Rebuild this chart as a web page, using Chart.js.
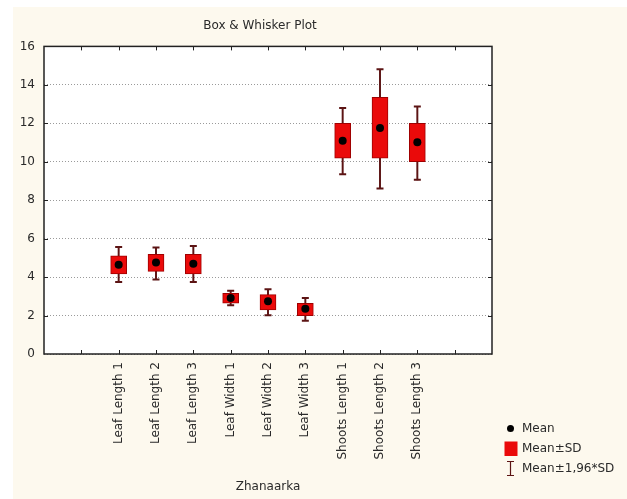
<!DOCTYPE html>
<html>
<head>
<meta charset="utf-8">
<script src="https://cdn.jsdelivr.net/npm/chart.js@4"></script>
<style>
html,body{margin:0;padding:0;background:#ffffff;}
canvas{display:block;}
</style>
</head>
<body>
<canvas id="c" width="627" height="499"></canvas>
<script>
// ---- data ----
const categories = ['Leaf Length 1','Leaf Length 2','Leaf Length 3','Leaf Width 1','Leaf Width 2','Leaf Width 3','Shoots Length 1','Shoots Length 2','Shoots Length 3'];
const means  = [4.64, 4.76, 4.69, 2.91, 2.74, 2.36, 11.09, 11.76, 11.01];
const sdLow  = [4.16, 4.30, 4.16, 2.65, 2.29, 1.99, 10.18, 10.18, 10.01];
const sdHigh = [5.10, 5.19, 5.19, 3.16, 3.09, 2.63, 12.00, 13.35, 12.00];
const ciLow  = [3.74, 3.88, 3.74, 2.53, 2.01, 1.73, 9.35, 8.61, 9.06];
const ciHigh = [5.56, 5.54, 5.62, 3.29, 3.37, 2.91, 12.80, 14.81, 12.87];
const xLabels = ['', ''].concat(categories, ['', '']);
const yMin = 0, yMax = 16, yStep = 2;
const chartTitle = 'Box & Whisker Plot';
const xTitle = 'Zhanaarka';
const legendLabels = ['Mean', 'Mean\u00b1SD', 'Mean\u00b11,96*SD'];

// ---- styles ----
const FONT = 'DejaVu Sans';
const TEXT = '#2a2a2a';
const CREAM = '#fdf9ee';
const BOX = '#ea0a0a';
const BOX_EDGE = '#a00000';
const WHISK = '#5c1414';

const frame = {
  id: 'frame',
  beforeDraw(chart) {
    const {ctx, chartArea: a} = chart;
    ctx.save();
    ctx.fillStyle = '#ffffff';
    ctx.fillRect(0, 0, chart.width, chart.height);
    ctx.fillStyle = CREAM;
    ctx.fillRect(13, 7, chart.width - 13, chart.height - 7);
    ctx.fillStyle = '#ffffff';
    ctx.fillRect(a.left, a.top, a.right - a.left, a.bottom - a.top);
    ctx.restore();
  },
  afterDraw(chart) {
    const {ctx, chartArea: a} = chart;
    const xs = chart.scales.x, ys = chart.scales.y;
    ctx.save();
    ctx.strokeStyle = '#222222';
    ctx.lineWidth = 1;
    ctx.beginPath();
    xs.ticks.forEach((t, i) => {
      if (i === 0 || i === xs.ticks.length - 1) return;
      const px = Math.round(xs.getPixelForTick(i)) + 0.5;
      ctx.moveTo(px, a.bottom); ctx.lineTo(px, a.bottom - 4);
      ctx.moveTo(px, a.top); ctx.lineTo(px, a.top + 4);
    });
    ys.ticks.forEach(t => {
      if (t.value === yMin || t.value === yMax) return;
      const py = Math.round(ys.getPixelForValue(t.value)) + 0.5;
      ctx.moveTo(a.left, py); ctx.lineTo(a.left + 4, py);
      ctx.moveTo(a.right, py); ctx.lineTo(a.right - 4, py);
    });
    ctx.stroke();
    ctx.lineWidth = 1.5;
    ctx.strokeRect(a.left, a.top, a.right - a.left, a.bottom - a.top);

    // legend
    ctx.font = '12px "' + FONT + '"';
    ctx.fillStyle = TEXT;
    ctx.textBaseline = 'middle';
    ctx.textAlign = 'left';
    const lx = 510.5, tx = 522;
    const rows = [428.5, 448.5, 468.5];
    // mean dot
    ctx.fillStyle = '#000';
    ctx.beginPath(); ctx.arc(lx, rows[0], 3.5, 0, Math.PI * 2); ctx.fill();
    // sd box
    ctx.fillStyle = BOX;
    ctx.fillRect(504.5, 441.5, 13, 14.5);
    // whisker icon
    ctx.strokeStyle = WHISK;
    ctx.lineWidth = 1.2;
    ctx.beginPath();
    ctx.moveTo(lx, 461); ctx.lineTo(lx, 476);
    ctx.moveTo(lx - 3.5, 461.5); ctx.lineTo(lx + 3.5, 461.5);
    ctx.moveTo(lx - 3.5, 475.5); ctx.lineTo(lx + 3.5, 475.5);
    ctx.stroke();
    ctx.fillStyle = TEXT;
    legendLabels.forEach((s, i) => ctx.fillText(s, tx, rows[i]));
    ctx.restore();
  }
};

const pts = arr => categories.map((c, i) => ({x: c, y: arr[i]}));
const ranges = (lo, hi) => categories.map((c, i) => ({x: c, y: [lo[i], hi[i]]}));

new Chart(document.getElementById('c'), {
  type: 'bar',
  data: {
    labels: xLabels,
    datasets: [
      { type: 'line', label: 'Mean', data: pts(means), showLine: false, order: 0,
        pointRadius: 4, pointHoverRadius: 4, pointBackgroundColor: '#000', pointBorderWidth: 0 },
      { type: 'bar', label: 'Mean±SD', data: ranges(sdLow, sdHigh), order: 1, grouped: false,
        barThickness: 16, backgroundColor: BOX, borderColor: BOX_EDGE, borderWidth: 1, borderSkipped: false },
      { type: 'line', label: 'capLow', data: pts(ciLow), showLine: false, order: 2,
        pointStyle: 'line', pointRadius: 3.5, pointHoverRadius: 3.5, pointBorderColor: WHISK, pointBorderWidth: 2 },
      { type: 'line', label: 'capHigh', data: pts(ciHigh), showLine: false, order: 2,
        pointStyle: 'line', pointRadius: 3.5, pointHoverRadius: 3.5, pointBorderColor: WHISK, pointBorderWidth: 2 },
      { type: 'bar', label: 'Mean±1,96*SD', data: ranges(ciLow, ciHigh), order: 3, grouped: false,
        barThickness: 1.3, backgroundColor: WHISK, borderWidth: 0 }
    ]
  },
  options: {
    responsive: false,
    animation: false,
    devicePixelRatio: 1,
    layout: { padding: { left: 13, top: 7, right: 120, bottom: 0 } },
    plugins: {
      legend: { display: false },
      tooltip: { enabled: false },
      title: { display: true, text: chartTitle, color: TEXT,
        font: { family: FONT, size: 12, weight: 'normal' }, padding: { top: 12, bottom: 13 } }
    },
    scales: {
      x: {
        type: 'category', labels: xLabels, offset: false,
        grid: { display: false, drawTicks: false, offset: false },
        border: { display: false },
        ticks: { autoSkip: false, minRotation: 90, maxRotation: 90, padding: 8,
          color: TEXT, font: { family: FONT, size: 12 } },
        title: { display: true, text: xTitle, color: TEXT, font: { family: FONT, size: 12 },
          padding: { top: 0, bottom: 5 } },
        afterFit(s) { s.height = 145; }
      },
      y: {
        type: 'linear', position: 'left', min: yMin, max: yMax,
        grid: { color: '#9a9a9a', lineWidth: 1, drawTicks: false },
        border: { display: false, dash: [1, 2] },
        ticks: { stepSize: yStep, padding: 9, color: TEXT, font: { family: FONT, size: 12 } },
        afterFit(s) { s.width = 31; }
      },
      y2: {
        type: 'linear', position: 'right', min: 0, max: 1,
        grid: { display: false, drawTicks: false },
        border: { display: false },
        ticks: { display: false },
        afterFit(s) { s.width = 15; }
      }
    }
  },
  plugins: [frame]
});
</script>
</body>
</html>
